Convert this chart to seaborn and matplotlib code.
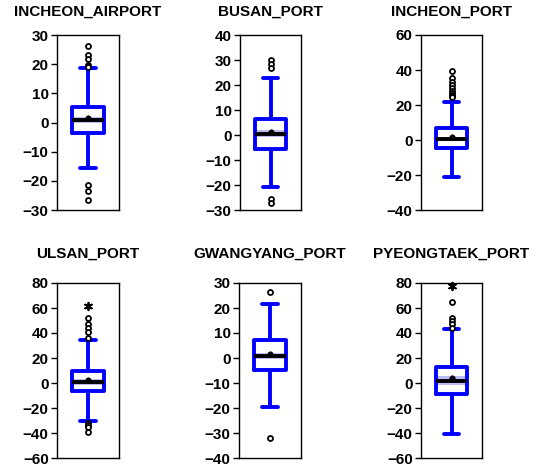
import matplotlib
matplotlib.use("Agg")
import matplotlib.pyplot as plt
import seaborn as sns
import numpy as np
import pandas as pd

# ---- data ----
ports = ["INCHEON_AIRPORT", "BUSAN_PORT", "INCHEON_PORT",
         "ULSAN_PORT", "GWANGYANG_PORT", "PYEONGTAEK_PORT"]
whisker_low = [-15.7, -20.9, -21.1, -30.7, -19.5, -40.5]
q1 = [-3.7, -5.6, -4.8, -6.7, -4.7, -8.8]
median = [0.8, 0.5, 0.4, 0.8, 0.8, 1.9]
q3 = [5.2, 6.4, 7.0, 9.9, 7.1, 12.8]
whisker_high = [18.7, 22.9, 21.7, 34.4, 21.6, 43.2]
mean = [1.4, 1.3, 1.7, 2.7, 1.6, 3.7]
median_ci_low = [-0.3, -0.9, -0.8, -1.3, -0.4, -1.9]
median_ci_high = [2.0, 2.0, 1.8, 3.2, 2.0, 5.3]
outliers = [
    [26.3, 23.1, 21.7, 19.6, 19.3, 19.1, -21.3, -23.4, -26.7],
    [29.8, 28.4, 26.6, -25.6, -27.2],
    [39.6, 35.4, 33.2, 31.2, 29.8, 28.2, 26.7, 25.8, 25.2, 24.8],
    [52.0, 46.9, 43.7, 40.5, 35.7, -32.3, -33.6, -35.2, -38.9],
    [26.4, -32.0],
    [64.5, 51.7, 49.3, 47.5, 44.3],
]
extremes = [[], [], [], [61.3], [], [77.9]]
y_min = [-30, -30, -40, -60, -40, -60]
y_max = [30, 40, 60, 80, 30, 80]
y_step = [10, 10, 20, 20, 10, 20]

# ---- layout (pixels) ----
W, H = 542, 465
boxes_px = [(57, 119, 35, 210), (240, 301, 35, 210), (421, 482, 35, 210),
            (57, 119, 283, 458), (239, 301, 283, 458), (421, 482, 283, 458)]
title_pads = [14, 14, 14, 18, 18, 18]

sns.set_style("ticks")
plt.rcParams["font.family"] = ["Liberation Sans", "DejaVu Sans"]
plt.rcParams["font.weight"] = "bold"
plt.rcParams["text.color"] = "black"
plt.rcParams["ytick.color"] = "black"
plt.rcParams["ytick.labelcolor"] = "black"
plt.rcParams["axes.edgecolor"] = "black"

fig = plt.figure(figsize=(W / 100, H / 100), dpi=100)
bw = 0.52

for i, name in enumerate(ports):
    x0, x1, yt, yb = boxes_px[i]
    ax = fig.add_axes([x0 / W, (H - yb) / H, (x1 - x0) / W, (yb - yt) / H])
    core = pd.DataFrame({"v": [whisker_low[i], q1[i], median[i], q3[i], whisker_high[i]]})

    # median confidence band
    ax.fill_between([-bw / 2, bw / 2], median_ci_low[i], median_ci_high[i],
                    color="#bcbcf0", lw=0, zorder=1.5)

    sns.boxplot(data=core, y="v", ax=ax, whis=(0, 100), width=bw, fill=False,
                color="#0000ff", linewidth=2.8, showfliers=False,
                medianprops={"color": "black", "linewidth": 2.8, "zorder": 4},
                boxprops={"zorder": 3}, whiskerprops={"zorder": 3},
                capprops={"zorder": 3})

    od = pd.DataFrame({"x": [0] * len(outliers[i]), "y": outliers[i]})
    sns.scatterplot(data=od, x="x", y="y", ax=ax, marker="o", s=13,
                    facecolor="white", edgecolor="black", linewidth=1.3,
                    zorder=5, clip_on=False)
    if extremes[i]:
        ed = pd.DataFrame({"x": [0] * len(extremes[i]), "y": extremes[i]})
        sns.scatterplot(data=ed, x="x", y="y", ax=ax, marker=(6, 2, 0), s=30,
                        color="black", linewidth=1.3, zorder=5, clip_on=False)
    md = pd.DataFrame({"x": [0], "y": [mean[i]]})
    sns.scatterplot(data=md, x="x", y="y", ax=ax, marker="o", s=16,
                    color="black", edgecolor="black", zorder=6)

    ax.set_xlim(-0.5, 0.5)
    ax.set_ylim(y_min[i], y_max[i])
    ax.set_yticks(np.arange(y_min[i], y_max[i] + 1, y_step[i]))
    ax.set_xticks([])
    ax.set_xlabel("")
    ax.set_ylabel("")
    for s in ax.spines.values():
        s.set_visible(True)
        s.set_color("black")
        s.set_linewidth(1.0)
    ax.tick_params(axis="y", labelsize=11, length=4, width=1, pad=2,
                   colors="black")
    for lab in ax.get_yticklabels():
        lab.set_fontweight("bold")
    ax.set_title(name, fontsize=11, fontweight="bold", pad=title_pads[i],
                 color="black")

fig.savefig("out.png", dpi=100)
